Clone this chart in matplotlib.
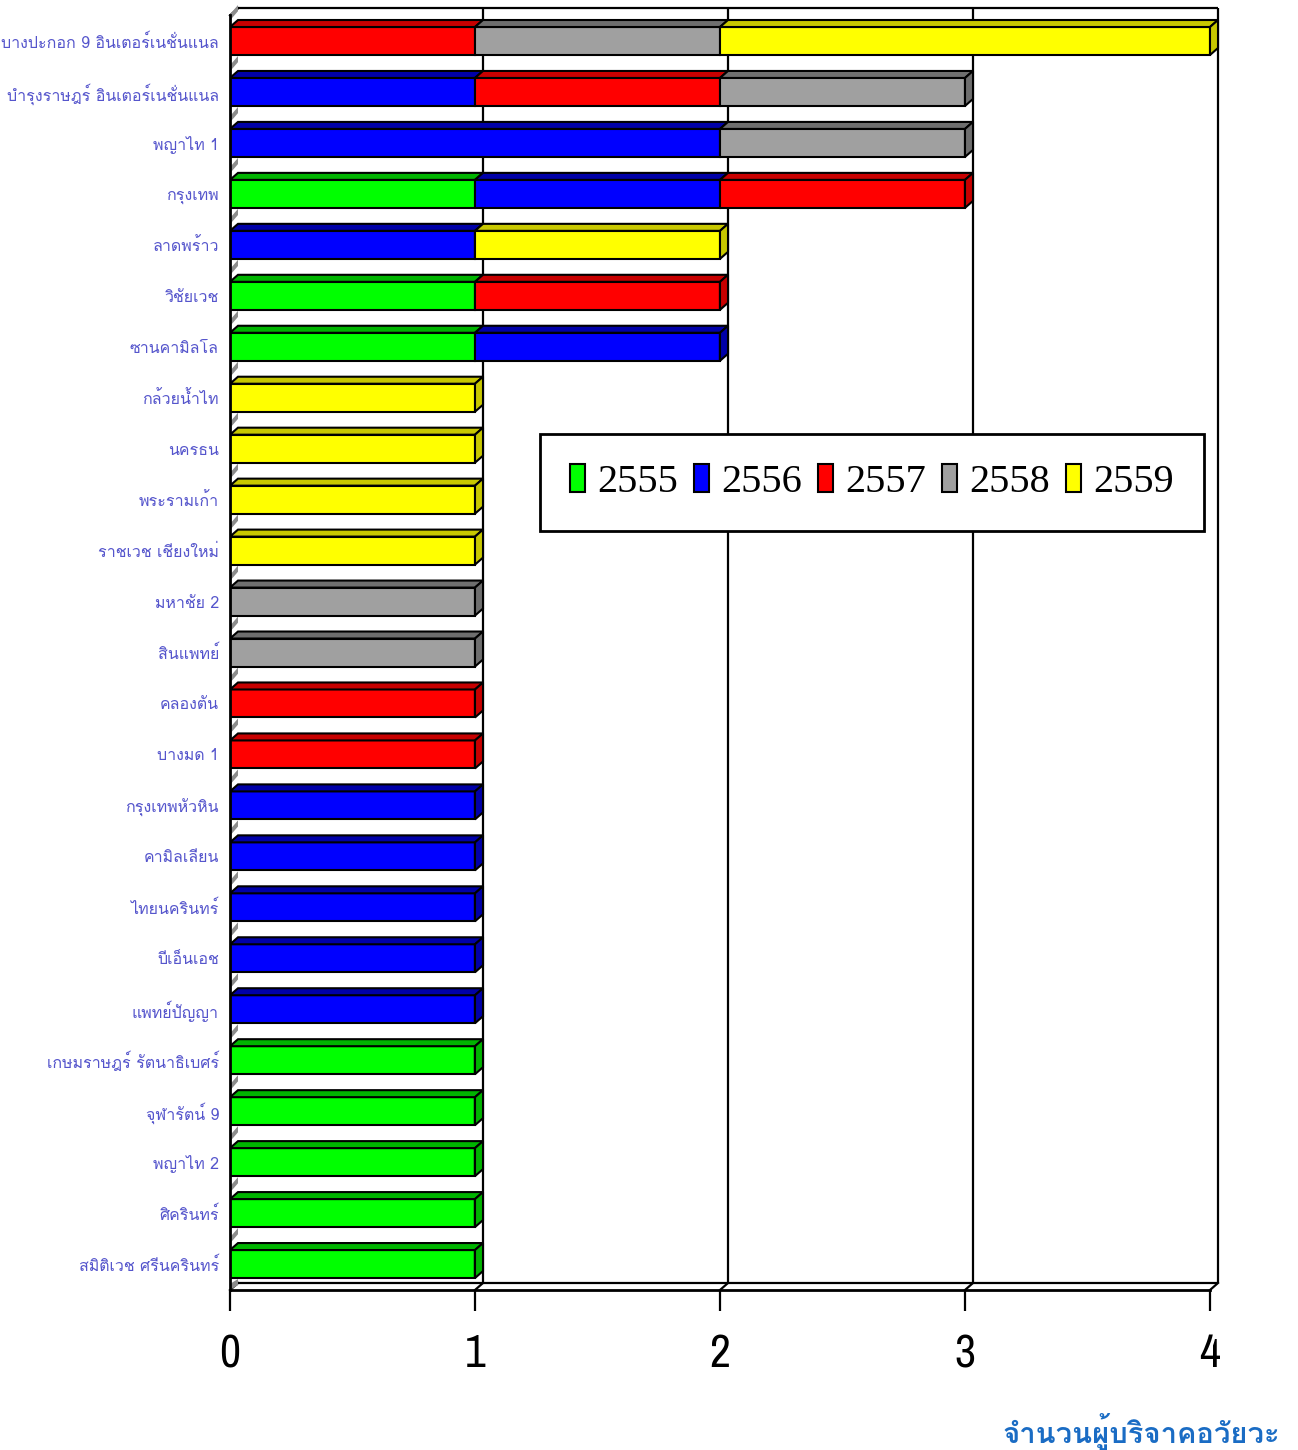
import matplotlib
matplotlib.use('Agg')
import matplotlib.pyplot as plt
from matplotlib import font_manager
from matplotlib.ft2font import FT2Font
from matplotlib.patches import Polygon, Patch
import numpy as np

hospitals = [
    'บางปะกอก 9 อินเตอร์เนชั่นแนล', 'บำรุงราษฎร์ อินเตอร์เนชั่นแนล', 'พญาไท 1',
    'กรุงเทพ', 'ลาดพร้าว', 'วิชัยเวช', 'ซานคามิลโล', 'กล้วยน้ำไท', 'นครธน',
    'พระรามเก้า', 'ราชเวช เชียงใหม่', 'มหาชัย 2', 'สินแพทย์', 'คลองตัน',
    'บางมด 1', 'กรุงเทพหัวหิน', 'คามิลเลียน', 'ไทยนครินทร์', 'บีเอ็นเอช',
    'แพทย์ปัญญา', 'เกษมราษฎร์ รัตนาธิเบศร์', 'จุฬารัตน์ 9', 'พญาไท 2',
    'ศิครินทร์', 'สมิติเวช ศรีนครินทร์',
]
years = ['2555', '2556', '2557', '2558', '2559']
y2555 = [0, 0, 0, 1, 0, 1, 1, 0, 0, 0, 0, 0, 0, 0, 0, 0, 0, 0, 0, 0, 1, 1, 1, 1, 1]
y2556 = [0, 1, 2, 1, 1, 0, 1, 0, 0, 0, 0, 0, 0, 0, 0, 1, 1, 1, 1, 1, 0, 0, 0, 0, 0]
y2557 = [1, 1, 0, 1, 0, 1, 0, 0, 0, 0, 0, 0, 0, 1, 1, 0, 0, 0, 0, 0, 0, 0, 0, 0, 0]
y2558 = [1, 1, 1, 0, 0, 0, 0, 0, 0, 0, 0, 1, 1, 0, 0, 0, 0, 0, 0, 0, 0, 0, 0, 0, 0]
y2559 = [2, 0, 0, 0, 1, 0, 0, 1, 1, 1, 1, 0, 0, 0, 0, 0, 0, 0, 0, 0, 0, 0, 0, 0, 0]
x_ticks = [0, 1, 2, 3, 4]
x_title = 'จำนวนผู้บริจาคอวัยวะ'

front_colors = ['#00ff00', '#0000ff', '#ff0000', '#a0a0a0', '#ffff00']
side_colors = ['#00b400', '#0000a8', '#c80000', '#6e6e6e', '#c8c800']


def pick_font(char, preferred):
    found = []
    for f in font_manager.fontManager.ttflist:
        try:
            if ord(char) in FT2Font(f.fname).get_charmap():
                found.append(f.name)
        except Exception:
            pass
    for p in preferred:
        if p in found:
            return p
    return found[0] if found else 'DejaVu Sans'


thai_font = pick_font('ก', ['Loma', 'Garuda', 'Tlwg Typo', 'Noto Sans Thai',
                            'Noto Sans Thai UI', 'Sarabun', 'Waree', 'Norasi'])

# narrow font for the axis numbers, if there is one
narrow, narrow_stretch = 'Liberation Sans', 'normal'
for f in font_manager.fontManager.ttflist:
    if 'Narrow' in f.name or 'Condensed' in f.name:
        narrow = f.name
        break
    if f.name == 'DejaVu Sans' and f.stretch == 'condensed':
        narrow, narrow_stretch = 'DejaVu Sans', 'condensed'

W, H = 1298, 1450
fig = plt.figure(figsize=(W / 100, H / 100), dpi=100)
# axes spans pixel x 230..1230, y 0..1290 ; 245 px per unit, 50.96 px per row
ax = fig.add_axes([230 / W, (H - 1290) / H, 1000 / W, 1290 / H])
xmax = 1000 / 245
ytop = -41 / 50.96
ybot = 1249 / 50.96
ax.set_xlim(0, xmax)
ax.set_ylim(ybot, ytop)

dx = 8 / 245
dy = 7 / 50.96
bh = 28 / 50.96
wall_top = -0.64
n = len(hospitals)
rows = np.arange(n)

# back wall, floor, gridlines
ax.vlines([v + dx for v in x_ticks[1:]], wall_top, ybot - dy, color='black', lw=1.6, zorder=1)
ax.hlines([wall_top, ybot - dy], dx, x_ticks[-1] + dx, color='black', lw=1.6, zorder=1)
for v in x_ticks:
    ax.plot([v, v + dx], [ybot, ybot - dy], color='black', lw=1.6, zorder=1, clip_on=False)
ax.plot([0, dx], [wall_top + dy, wall_top], color='black', lw=1.6, zorder=1, clip_on=False)

# left wall slivers in the gaps between bars
gap_bottoms = list(rows - 1 + bh / 2) + [n - 1 + bh / 2]
for g in gap_bottoms:
    yb = min(g + 0.32, ybot)
    yt = g
    ax.add_patch(Polygon([(0, yb), (0, yb - 0.12), (dx, yt + 0.02), (dx, yt + 0.14)],
                         closed=True, facecolor='#8c8c8c', edgecolor='none', zorder=2))

series = [y2555, y2556, y2557, y2558, y2559]
left = np.zeros(n)
for vals, fc, sc in zip(series, front_colors, side_colors):
    vals = np.array(vals, dtype=float)
    ax.barh(rows, vals, left=left, height=bh, color=fc, edgecolor='black',
            linewidth=1.5, zorder=3)
    for i in rows:
        if vals[i] == 0:
            continue
        l, r = left[i], left[i] + vals[i]
        yt = i - bh / 2
        ax.add_patch(Polygon([(l, yt), (l + dx, yt - dy), (r + dx, yt - dy), (r, yt)],
                             closed=True, facecolor=sc, edgecolor='black', lw=1.5, zorder=3))
    left = left + vals

totals = left
for i in rows:
    yt, yb = i - bh / 2, i + bh / 2
    r = totals[i]
    last = max(k for k in range(5) if series[k][i] > 0)
    ax.add_patch(Polygon([(r, yt), (r + dx, yt - dy), (r + dx, yb - dy), (r, yb)],
                         closed=True, facecolor=side_colors[last], edgecolor='black',
                         lw=1.5, zorder=3))

# axes styling
for s in ['top', 'right']:
    ax.spines[s].set_visible(False)
ax.spines['bottom'].set_bounds(0, x_ticks[-1])
ax.spines['left'].set_bounds(wall_top + dy, ybot)
ax.spines['bottom'].set_linewidth(2)
ax.spines['left'].set_linewidth(2)
ax.spines['bottom'].set_zorder(5)
ax.spines['left'].set_zorder(5)

ax.set_xticks(x_ticks)
ax.set_xticklabels([str(v) for v in x_ticks], fontsize=33, family=narrow,
                   fontstretch=narrow_stretch)
ax.tick_params(axis='x', direction='out', length=15, width=1.6, pad=16)
ax.set_yticks(rows)
ax.set_yticklabels(hospitals, family=[thai_font, 'DejaVu Sans'], fontsize=11.5, color='#5555cc')
ax.tick_params(axis='y', length=0, pad=8)

handles = [Patch(facecolor=c, edgecolor='black', lw=1.5) for c in front_colors]
leg = ax.legend(handles, years, ncol=5, loc='center',
                bbox_to_anchor=(872 / W, 1 - 482.5 / H), bbox_transform=fig.transFigure,
                prop={'family': 'Liberation Serif', 'size': 29},
                handlelength=0.37, handleheight=0.72, handletextpad=0.3,
                columnspacing=0.4, borderpad=0.75, fancybox=False, framealpha=1,
                edgecolor='black')
leg.get_frame().set_linewidth(2)
leg.set_zorder(6)

fig.text(1280 / W, 1 - 1432 / H, x_title, ha='right', va='center', fontsize=21,
         fontweight='bold', color='#1a6cc4', family=[thai_font, 'DejaVu Sans'])

fig.savefig('out.png', dpi=100)
